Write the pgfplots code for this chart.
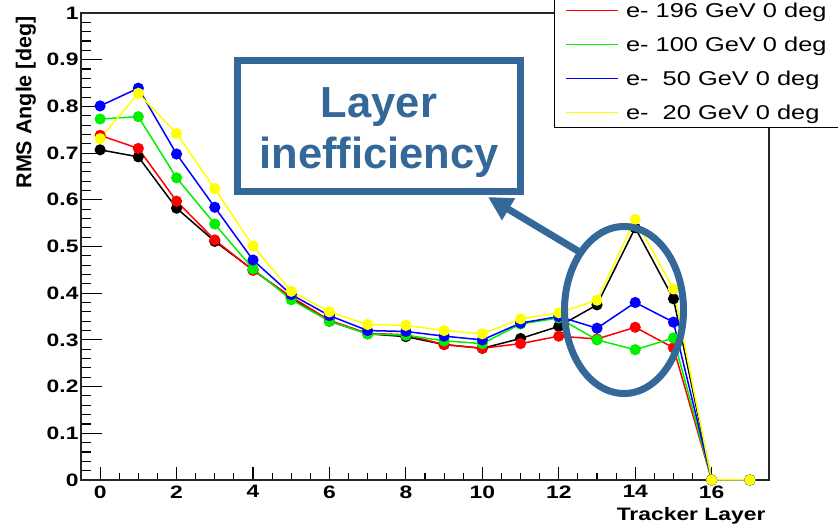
\documentclass[border=0pt]{standalone}
\usepackage{pgfplots}
\pgfplotsset{compat=1.18}
\usepackage{fontspec}
\setmainfont{Liberation Sans}
\newfontfamily\rootfont[FakeStretch=1.27]{Liberation Sans}
\usetikzlibrary{arrows.meta}
\definecolor{annot}{RGB}{52,104,153}
\definecolor{rred}{RGB}{255,0,0}
\definecolor{rgreen}{RGB}{0,240,0}
\definecolor{rblue}{RGB}{0,0,255}
\definecolor{ryellow}{RGB}{255,255,0}
\begin{document}
\begin{tikzpicture}[x=1pt,y=1pt]
\begin{axis}[
  at={(81pt,49pt)}, anchor=south west,
  scale only axis, width=688pt, height=467pt,
  xmin=-0.5, xmax=17.5, ymin=0, ymax=1,
  clip=false,
  xtick={0,2,4,6,8,10,12,14,16},
  ytick={0,0.1,0.2,0.3,0.4,0.5,0.6,0.7,0.8,0.9,1},
  minor x tick num=3, minor y tick num=4,
  tick align=inside, xtick pos=left, ytick pos=left,
  xtick style={/pgfplots/major tick length=13pt, /pgfplots/minor tick length=7pt},
  ytick style={/pgfplots/major tick length=21pt, /pgfplots/minor tick length=10pt},
  every tick/.style={black, line width=1.1pt},
  axis line style={black!85, line width=1.3pt},
  /pgf/number format/assume math mode=true,
  tick label style={font=\rootfont\bfseries\fontsize{18}{18}\selectfont},
  yticklabel style={xshift=1pt},
  xticklabel style={yshift=-2pt},
  xlabel={Tracker Layer},
  ylabel={RMS Angle [deg]},
  every axis x label/.style={at={(axis description cs:1,-0.077)}, anchor=east, font=\rootfont\bfseries\fontsize{18}{18}\selectfont},
  every axis y label/.style={at={(axis description cs:-0.080,1)}, anchor=east, rotate=90, font=\bfseries\fontsize{21.5}{21.5}\selectfont},
  every axis plot/.append style={line width=1.5pt, mark=*, mark size=4.8pt},
  legend style={at={(0.6875,0.7537)}, anchor=south west, draw=black, line width=1pt, fill=white,
    font=\rootfont\fontsize{20}{20}\selectfont, inner xsep=11pt, inner ysep=5pt, row sep=14pt,
    nodes={inner sep=2pt, text height=15pt, text depth=1pt}},
  legend cell align=left,
  legend image code/.code={\draw[#1, mark=none, line width=1.6pt] (0pt,0pt) -- (52pt,0pt); \path (57pt,0pt);},
]
\addplot[black, mark options={fill=black}, forget plot] coordinates {
(0,0.707) (1,0.692) (2,0.582) (3,0.511) (4,0.450) (5,0.390) (6,0.340) (7,0.313) (8,0.307)
(9,0.290) (10,0.282) (11,0.303) (12,0.329) (13,0.375) (14,0.540) (15,0.388) (16,0) (17,0)};
\addplot[rred, mark options={fill=rred}] coordinates {
(0,0.738) (1,0.710) (2,0.597) (3,0.514) (4,0.449) (5,0.392) (6,0.342) (7,0.314) (8,0.311)
(9,0.290) (10,0.282) (11,0.292) (12,0.308) (13,0.302) (14,0.327) (15,0.283) (16,0) (17,0)};
\addlegendentry{e- 196 GeV 0 deg}
\addplot[rgreen, mark options={fill=rgreen}] coordinates {
(0,0.773) (1,0.778) (2,0.647) (3,0.548) (4,0.452) (5,0.386) (6,0.340) (7,0.313) (8,0.310)
(9,0.298) (10,0.292) (11,0.334) (12,0.347) (13,0.300) (14,0.279) (15,0.304) (16,0) (17,0)};
\addlegendentry{e- 100 GeV 0 deg}
\addplot[rblue, mark options={fill=rblue}] coordinates {
(0,0.801) (1,0.839) (2,0.698) (3,0.584) (4,0.471) (5,0.397) (6,0.352) (7,0.320) (8,0.318)
(9,0.308) (10,0.300) (11,0.336) (12,0.350) (13,0.325) (14,0.380) (15,0.338) (16,0) (17,0)};
\addlegendentry{e-\ \ 50 GeV 0 deg}
\addplot[ryellow, mark options={fill=ryellow}] coordinates {
(0,0.731) (1,0.828) (2,0.742) (3,0.624) (4,0.501) (5,0.404) (6,0.360) (7,0.333) (8,0.331)
(9,0.320) (10,0.313) (11,0.345) (12,0.358) (13,0.385) (14,0.558) (15,0.409) (16,0) (17,0)};
\addlegendentry{e-\ \ 20 GeV 0 deg}
\end{axis}
% annotation
\draw[annot, line width=7pt, fill=white] (237.5,468.5) rectangle (520.5,337.5);
\node[annot, font=\bfseries\fontsize{43.5}{51}\selectfont, align=center] at (379,396.5) {Layer\\inefficiency};
\draw[annot, line width=7pt] (624,219) ellipse [x radius=59.5, y radius=83.5];
\draw[annot, line width=7pt, -{Triangle[length=24pt, width=24pt]}] (578,278) -- (488,332);
\pgfresetboundingbox
\path[use as bounding box] (0,0) rectangle (838,529);
\end{tikzpicture}
\end{document}
